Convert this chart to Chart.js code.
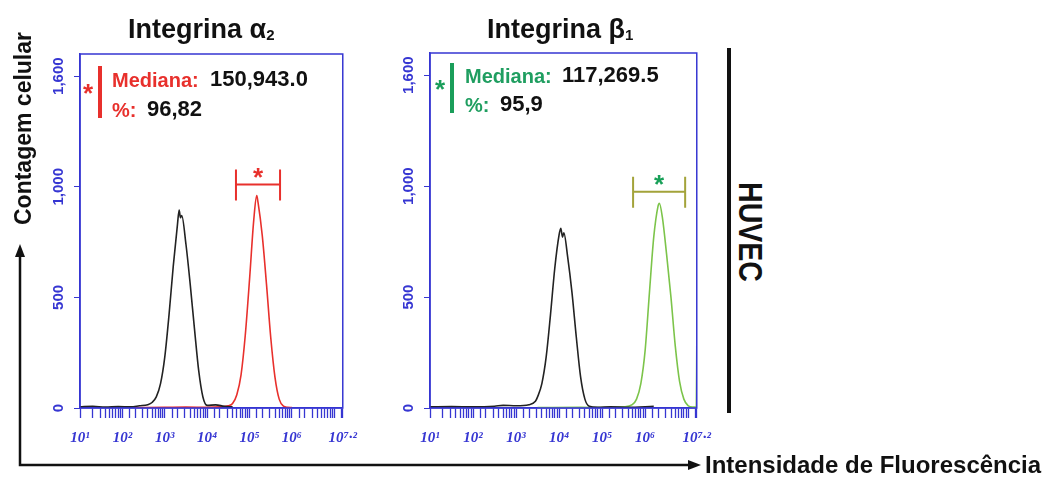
<!DOCTYPE html>
<html>
<head>
<meta charset="utf-8">
<script src="https://cdn.jsdelivr.net/npm/chart.js@4/dist/chart.umd.min.js"></script>
<style>
  body { margin: 0; background: #fff; font-family: "Liberation Sans", Arial, sans-serif; }
  #page { position: relative; width: 1045px; height: 483px; overflow: hidden; }
  canvas { position: absolute; }
  .t { position: absolute; font-weight: bold; line-height: 1; white-space: nowrap; }
  .title { font-size: 27px; color: #111; }
  .title sub { font-size: 15px; vertical-align: -2px; }
  .lab { font-size: 20px; }
  .val { font-size: 22px; color: #111; }
</style>
</head>
<body>
<div id="page">
  <canvas id="alpha" width="328" height="420" style="left:40px;top:40px"></canvas>
  <canvas id="beta" width="332" height="420" style="left:390px;top:40px"></canvas>

  <div class="t title" style="left:128px;top:16px">Integrina α<sub>2</sub></div>
  <div class="t title" style="left:487px;top:16px">Integrina β<sub>1</sub></div>

  <!-- left annotation -->
  <div class="t" style="left:83px;top:80px;font-size:26px;color:#e8302c">*</div>
  <div style="position:absolute;left:98px;top:66px;width:4px;height:52px;background:#e8302c"></div>
  <div class="t lab" style="left:112px;top:70px;color:#e8302c">Mediana:</div>
  <div class="t val" style="left:210px;top:68px">150,943.0</div>
  <div class="t lab" style="left:112px;top:100px;color:#e8302c">%:</div>
  <div class="t val" style="left:147px;top:98px">96,82</div>

  <!-- right annotation -->
  <div class="t" style="left:435px;top:76px;font-size:26px;color:#1a9e5a">*</div>
  <div style="position:absolute;left:450px;top:63px;width:4px;height:50px;background:#1a9e5a"></div>
  <div class="t lab" style="left:465px;top:66px;color:#1f9e60">Mediana:</div>
  <div class="t val" style="left:562px;top:64px">117,269.5</div>
  <div class="t lab" style="left:465px;top:95px;color:#1f9e60">%:</div>
  <div class="t val" style="left:500px;top:93px">95,9</div>

  <!-- HUVEC marker -->
  <div style="position:absolute;left:727px;top:48px;width:4px;height:365px;background:#111"></div>
  <div class="t" style="left:701px;top:207px;width:100px;text-align:center;font-size:34px;color:#111;transform:rotate(90deg) scaleX(0.84)">HUVEC</div>

  <!-- axis titles with arrows -->
  <svg style="position:absolute;left:0;top:0" width="1045" height="483">
    <polyline points="20,254 20,465 692,465" fill="none" stroke="#111" stroke-width="2.5"/>
    <polygon points="20,244 15,257 25,257" fill="#111"/>
    <polygon points="701,465 688,460 688,470" fill="#111"/>
  </svg>
  <div class="t" style="left:-83px;top:117px;width:212px;text-align:center;font-size:23px;color:#111;transform:rotate(-90deg)">Contagem celular</div>
  <div class="t" style="left:705px;top:453px;font-size:24px;color:#111">Intensidade de Fluorescência</div>
</div>

<script>
// x positions are log10 of fluorescence intensity, y values are cell counts
const xTickExps = [1, 2, 3, 4, 5, 6, 7.2];
const xTickLabels = ['10¹', '10²', '10³', '10⁴', '10⁵', '10⁶', '10⁷·²'];
const yTickValues = [0, 500, 1000, 1500];
const yTickLabels = ['0', '500', '1,000', '1,600'];
const yMax = 1600;

// Integrina alpha2 panel
const alphaCtrlExp = [1.0, 1.3, 1.6, 1.9, 2.2, 2.4, 2.6, 2.7, 2.8, 2.9, 3.0, 3.1, 3.2, 3.3, 3.34, 3.37, 3.4, 3.5, 3.6, 3.7, 3.8, 3.9, 4.0, 4.2, 4.4, 4.6];
const alphaCtrlCount = [5, 8, 4, 6, 5, 10, 15, 25, 50, 110, 230, 420, 640, 830, 895, 860, 870, 740, 560, 360, 170, 50, 12, 14, 8, 5];
const alphaExp = [2.3, 3.0, 3.5, 4.0, 4.3, 4.5, 4.6, 4.7, 4.8, 4.9, 5.0, 5.1, 5.17, 5.2, 5.3, 5.4, 5.5, 5.6, 5.7, 5.8, 5.9, 6.0];
const alphaCount = [2, 3, 4, 3, 5, 10, 20, 60, 150, 330, 580, 850, 960, 930, 780, 560, 320, 140, 40, 8, 3, 2];
const alphaGate = [4.68, 5.72, 1010];

// Integrina beta1 panel
const betaCtrlExp = [1.0, 1.5, 2.0, 2.5, 2.7, 3.0, 3.3, 3.45, 3.5, 3.6, 3.7, 3.8, 3.9, 4.0, 4.04, 4.08, 4.11, 4.2, 4.3, 4.4, 4.5, 4.6, 4.7, 4.9, 5.2, 5.6, 6.2];
const betaCtrlCount = [5, 6, 5, 8, 12, 10, 15, 30, 50, 110, 230, 420, 630, 780, 810, 770, 790, 680, 520, 320, 140, 40, 8, 3, 5, 3, 8];
const betaExp = [3.5, 4.5, 5.0, 5.5, 5.7, 5.8, 5.9, 6.0, 6.1, 6.2, 6.3, 6.33, 6.4, 6.5, 6.6, 6.7, 6.8, 6.9, 7.0, 7.1, 7.19, 7.2];
const betaCount = [2, 3, 2, 5, 15, 40, 110, 260, 520, 770, 910, 923, 860, 690, 500, 280, 120, 40, 10, 4, 5, 280];
const betaGate = [5.72, 6.93, 975];

const blue = '#3636d2';

function toPoints(exps, counts) {
    return exps.map((e, i) => ({ x: Math.pow(10, e), y: counts[i] }));
}

// blue box round the plot + y labels written sideways + gate bracket
const panelDeco = {
    id: 'panelDeco',
    afterDraw(chart, args, opts) {
        const c = chart.ctx, a = chart.chartArea;
        const xs = chart.scales.x, ys = chart.scales.y;
        c.save();
        c.strokeStyle = blue;
        c.lineWidth = 1.5;
        c.strokeRect(a.left, a.top, a.right - a.left, a.bottom - a.top);

        c.fillStyle = blue;
        c.font = 'bold 15px "Liberation Sans", Arial, sans-serif';
        c.textAlign = 'center';
        c.textBaseline = 'middle';
        yTickValues.forEach((v, i) => {
            c.save();
            c.translate(a.left - 21, ys.getPixelForValue(v));
            c.rotate(-Math.PI / 2);
            c.fillText(yTickLabels[i], 0, 0);
            c.restore();
        });

        const g = opts.gate;
        const x0 = xs.getPixelForValue(Math.pow(10, g[0]));
        const x1 = xs.getPixelForValue(Math.pow(10, g[1]));
        const gy = ys.getPixelForValue(g[2]);
        c.strokeStyle = opts.gateColor;
        c.lineWidth = 2;
        c.beginPath();
        c.moveTo(x0, gy); c.lineTo(x1, gy);
        c.moveTo(x0, gy - 15); c.lineTo(x0, gy + 16);
        c.moveTo(x1, gy - 15); c.lineTo(x1, gy + 16);
        c.stroke();
        c.fillStyle = opts.starColor;
        c.font = 'bold 26px "Liberation Sans", Arial, sans-serif';
        c.fillText('*', (x0 + x1) / 2, gy - 6);
        c.restore();
    }
};

function makePanel(id, ctrlExp, ctrlCount, exp, count, color, gate, gateColor, starColor, padTop) {
    return new Chart(document.getElementById(id), {
        type: 'line',
        data: {
            datasets: [
                {
                    label: 'controle',
                    data: toPoints(ctrlExp, ctrlCount),
                    borderColor: '#222',
                    borderWidth: 1.6,
                    pointRadius: 0,
                    cubicInterpolationMode: 'monotone'
                },
                {
                    label: 'amostra',
                    data: toPoints(exp, count),
                    borderColor: color,
                    borderWidth: 1.6,
                    pointRadius: 0,
                    cubicInterpolationMode: 'monotone'
                }
            ]
        },
        options: {
            responsive: false,
            animation: false,
            layout: { padding: { top: padTop, right: 0, left: 0, bottom: 0 } },
            plugins: {
                legend: { display: false },
                tooltip: { enabled: false },
                panelDeco: { gate: gate, gateColor: gateColor, starColor: starColor }
            },
            scales: {
                x: {
                    type: 'logarithmic',
                    min: Math.pow(10, xTickExps[0]),
                    max: Math.pow(10, xTickExps[xTickExps.length - 1]),
                    afterFit(scale) { scale.height = 52; },
                    border: { color: blue, width: 1.5 },
                    grid: { drawOnChartArea: false, color: blue, tickLength: 10, tickWidth: 1.3 },
                    ticks: {
                        autoSkip: false,
                        maxRotation: 0,
                        padding: 11,
                        color: blue,
                        font: { size: 15, weight: 'bold', style: 'italic', family: '"Liberation Serif", serif' },
                        callback(value) {
                            const e = Math.log10(value);
                            const i = xTickExps.findIndex(t => Math.abs(t - e) < 1e-6);
                            return i >= 0 ? xTickLabels[i] : '';
                        }
                    }
                },
                y: {
                    min: 0,
                    max: yMax,
                    afterFit(scale) { scale.width = 40; },
                    afterBuildTicks(scale) { scale.ticks = yTickValues.map(v => ({ value: v })); },
                    border: { color: blue, width: 1.5 },
                    grid: { drawOnChartArea: false, color: blue, tickLength: 6 },
                    ticks: { display: false }
                }
            }
        },
        plugins: [panelDeco]
    });
}

makePanel('alpha', alphaCtrlExp, alphaCtrlCount, alphaExp, alphaCount, '#e8302c', alphaGate, '#e8302c', '#e8302c', 14);
makePanel('beta', betaCtrlExp, betaCtrlCount, betaExp, betaCount, '#7cc44a', betaGate, '#a3a33a', '#18a058', 13);
</script>
</body>
</html>
